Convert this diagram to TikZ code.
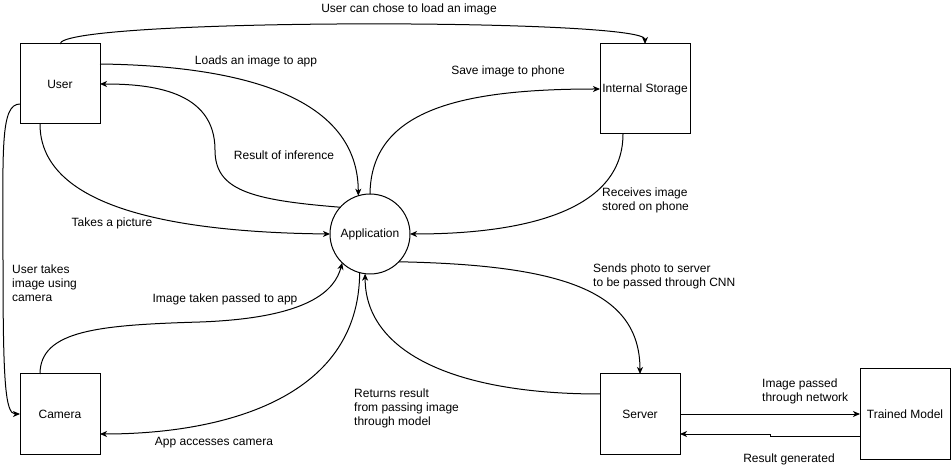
\documentclass[tikz,border=0pt]{standalone}
\usepackage{fontspec}
\setmainfont{Liberation Sans}
\usetikzlibrary{arrows.meta,positioning}

\begin{document}
\begin{tikzpicture}[x=1pt,y=-1pt]
\tikzset{basicbox/.style={draw=black, line width=1pt, fill=white, minimum width=80pt, minimum height=80pt, inner sep=0pt, outer sep=0pt, align=center, font=\fontsize{12}{14}\selectfont}, bigbox/.style={basicbox, minimum width=90pt, minimum height=90pt}, procnode/.style={basicbox, circle, minimum size=80pt}, lbl/.style={inner sep=0pt, align=left, font=\fontsize{12}{14}\selectfont}, arrowstyle/.style={-{Stealth[length=7pt,width=6pt,inset=2pt]}, line width=1pt, black}}
\useasboundingbox (0,0) rectangle (951,470);
\node[basicbox] (user) at (60,84) {User};
\node[bigbox] (store) at (645,89) {Internal Storage};
\node[procnode] (app) at (370,234) {Application};
\node[basicbox] (camera) at (60,414) {Camera};
\node[basicbox] (server) at (640,414) {Server};
\node[bigbox] (model) at (905,414) {Trained Model};
% flows around the user
\draw[arrowstyle] (user.north) .. controls (60,18) and (645,18) .. (store.north);
\draw[arrowstyle] ([yshift=20pt]user.east) .. controls (250,66) and (358,100) .. (app.107);
\draw[arrowstyle] (app.138) .. controls (250,200) and (215,190) .. (215,150) .. controls (215,90) and (150,84) .. (user.east);
\draw[arrowstyle] ([xshift=-20pt]user.south) .. controls (40,200) and (150,232) .. (app.west);
\draw[arrowstyle] ([yshift=-20pt]user.west) .. controls (0,104) and (3,150) .. (3,260) .. controls (3,380) and (5,414) .. (camera.west);
% storage
\draw[arrowstyle] (app.north) .. controls (371,110) and (460,89) .. (store.west);
\draw[arrowstyle] ([xshift=-22pt]store.south) .. controls (623,220) and (500,234) .. (app.east);
% server and model
\draw[arrowstyle] (app.-44) .. controls (560,265) and (640,290) .. (server.north);
\draw[arrowstyle] ([yshift=20pt]server.west) .. controls (450,394) and (365,350) .. (app.-97);
\draw[arrowstyle] (server.east) -- (model.west);
\draw[arrowstyle] ([yshift=-22pt]model.west) -- +(-90,0) |- ([yshift=-20pt]server.east);
% camera
\draw[arrowstyle] ([xshift=-20pt]camera.north) .. controls (40,330) and (100,325) .. (200,322) .. controls (310,318) and (335,290) .. (app.-134);
\draw[arrowstyle] (app.-105) .. controls (359,400) and (220,434) .. ([yshift=-20pt]camera.east);
% labels
\node[lbl] (lchose) at (409,9) {User can chose to load an image};
\node[lbl] (lloads) at (256,61) {Loads an image to app};
\node[lbl] (lresult) at (284,155) {Result of inference};
\node[lbl] (ltakes) at (112,223) {Takes a picture};
\node[lbl] (lsave) at (508,71) {Save image to phone};
\node[lbl, anchor=west] (lreceive) at (602,200) {Receives image\\stored on phone};
\node[lbl, anchor=west] (lusercam) at (12,283) {User takes\\image using\\camera};
\node[lbl] (ltaken) at (225,299) {Image taken passed to app};
\node[lbl, anchor=west] (lreturns) at (354,408) {Returns result\\from passing image\\through model};
\node[lbl] (laccess) at (214,443) {App accesses camera};
\node[lbl, anchor=west] (lsends) at (593,276) {Sends photo to server\\to be passed through CNN};
\node[lbl, anchor=west] (lpassed) at (762,391) {Image passed\\through network};
\node[lbl] (lgen) at (789,459) {Result generated};
\end{tikzpicture}
\end{document}
